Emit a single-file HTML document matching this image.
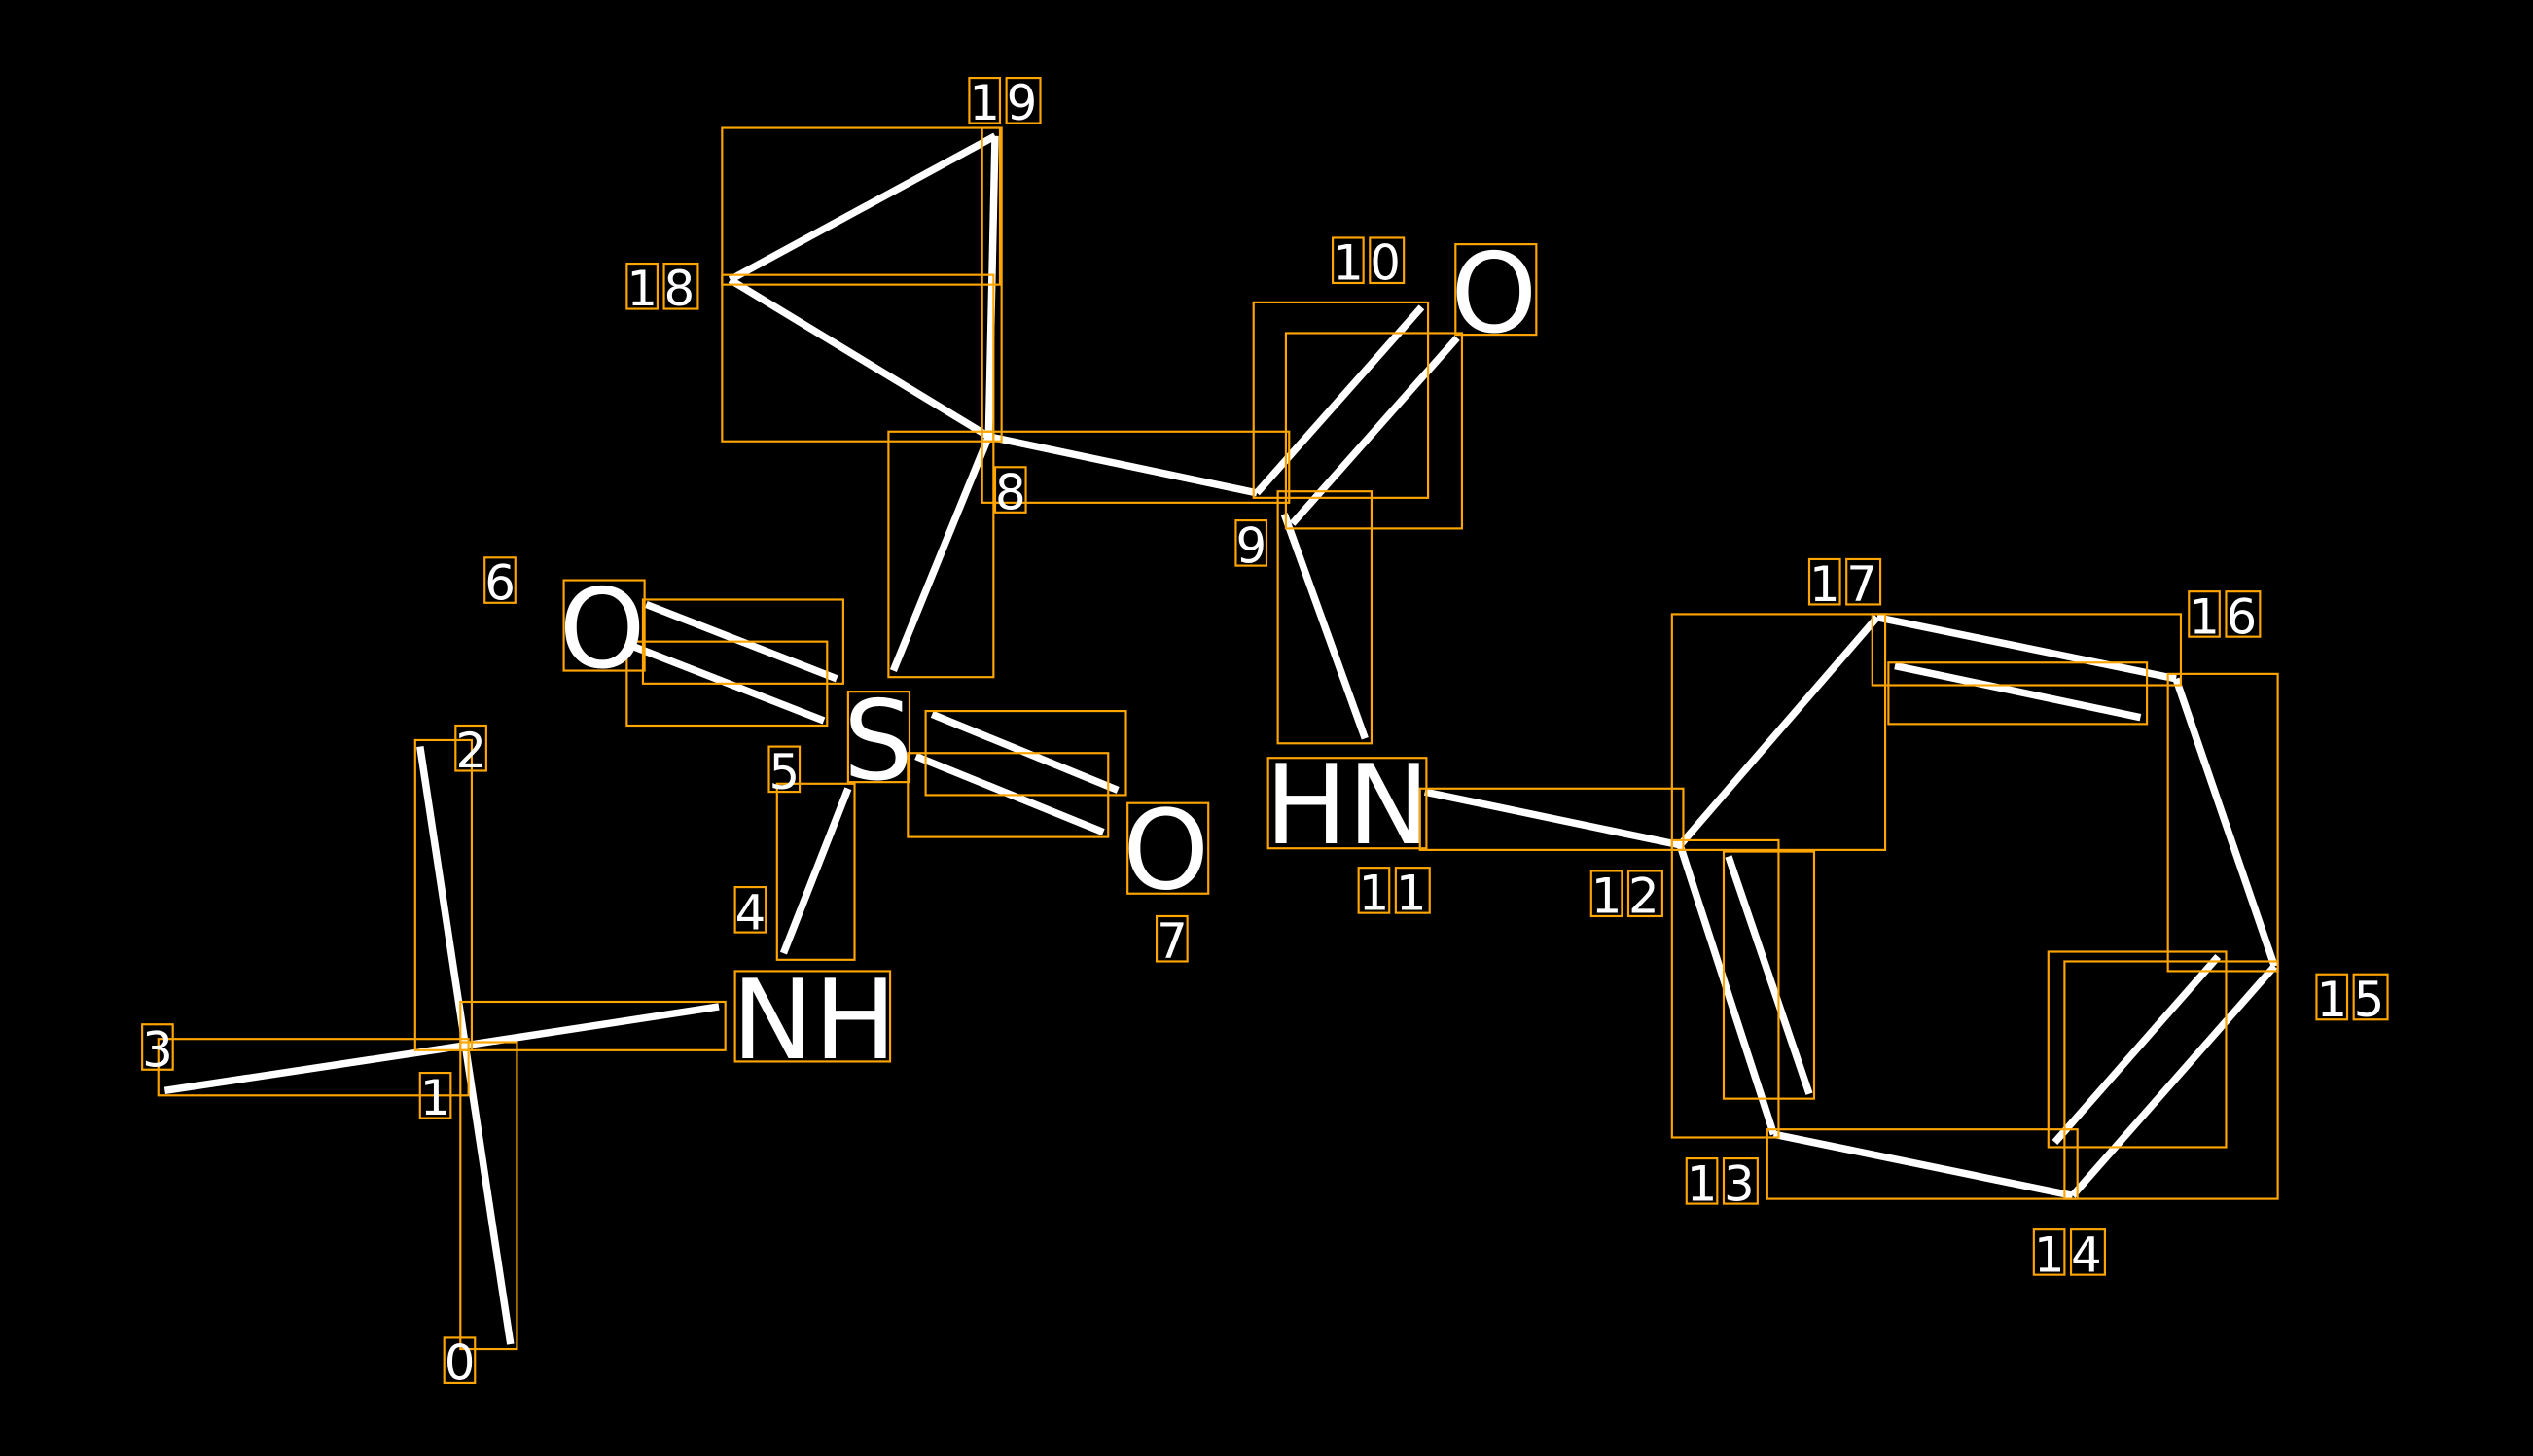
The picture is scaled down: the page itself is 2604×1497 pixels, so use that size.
<!DOCTYPE html>
<html><head><meta charset="utf-8"><style>
html,body{margin:0;padding:0;background:#000;}
svg{display:block;}
text{font-family:"DejaVu Sans","Liberation Sans",sans-serif;fill:#fff;}
</style></head><body>
<svg width="2604" height="1497" viewBox="0 0 1568 901" xmlns="http://www.w3.org/2000/svg">
<rect width="1568" height="901" fill="#000"/>
<g stroke="#fff" stroke-width="4.5" stroke-linecap="butt" fill="none">
<line x1="102" y1="675" x2="288" y2="647"/>
<line x1="288" y1="647" x2="445" y2="623"/>
<line x1="260" y1="462" x2="288" y2="647"/>
<line x1="288" y1="647" x2="316" y2="832"/>
<line x1="485" y1="590" x2="525" y2="488"/>
<line x1="400" y1="374" x2="518" y2="420"/>
<line x1="392" y1="400" x2="510" y2="446"/>
<line x1="577" y1="442" x2="692" y2="489"/>
<line x1="567" y1="468" x2="683" y2="515"/>
<line x1="553" y1="415" x2="612" y2="270"/>
<line x1="612" y1="270" x2="452" y2="173"/>
<line x1="452" y1="173" x2="616" y2="84"/>
<line x1="616" y1="84" x2="612" y2="270"/>
<line x1="612" y1="270" x2="778" y2="305"/>
<line x1="778" y1="305" x2="880" y2="190"/>
<line x1="800" y1="324" x2="902" y2="209"/>
<line x1="795" y1="318" x2="845" y2="457"/>
<line x1="882" y1="490" x2="1040" y2="523"/>
<line x1="1040" y1="523" x2="1162" y2="382"/>
<line x1="1162" y1="382" x2="1347" y2="420"/>
<line x1="1173" y1="412" x2="1325" y2="444"/>
<line x1="1347" y1="420" x2="1408" y2="598"/>
<line x1="1408" y1="598" x2="1283" y2="740"/>
<line x1="1373" y1="592" x2="1272" y2="707"/>
<line x1="1283" y1="740" x2="1098" y2="702"/>
<line x1="1098" y1="702" x2="1040" y2="523"/>
<line x1="1070" y1="530" x2="1120" y2="677"/>
</g>
<g stroke="#FFA500" stroke-width="1.3" fill="none">
<rect x="98" y="643" width="192" height="35"/>
<rect x="285" y="620" width="164" height="30"/>
<rect x="257" y="458" width="35" height="192"/>
<rect x="285" y="645" width="35" height="190"/>
<rect x="481" y="485" width="48" height="109"/>
<rect x="398" y="371" width="124" height="52"/>
<rect x="388" y="397" width="124" height="52"/>
<rect x="573" y="440" width="124" height="52"/>
<rect x="562" y="466" width="124" height="52"/>
<rect x="550" y="267" width="65" height="152"/>
<rect x="447" y="170" width="168" height="103"/>
<rect x="447" y="79" width="172" height="97"/>
<rect x="608" y="79" width="12" height="194"/>
<rect x="608" y="267" width="190" height="44"/>
<rect x="776" y="187" width="108" height="121"/>
<rect x="796" y="206" width="109" height="121"/>
<rect x="791" y="304" width="58" height="156"/>
<rect x="879" y="488" width="163" height="38"/>
<rect x="1035" y="380" width="132" height="146"/>
<rect x="1159" y="380" width="191" height="44"/>
<rect x="1169" y="410" width="160" height="38"/>
<rect x="1342" y="417" width="68" height="184"/>
<rect x="1278" y="595" width="132" height="147"/>
<rect x="1268" y="589" width="110" height="121"/>
<rect x="1094" y="699" width="192" height="43"/>
<rect x="1035" y="520" width="66" height="184"/>
<rect x="1067" y="527" width="56" height="153"/>
</g>
<g font-size="30" stroke="#FFA500" stroke-width="1.3" fill="none">
<rect x="275" y="828" width="19" height="28"/><rect x="260" y="664" width="19" height="28"/>
<rect x="282" y="449" width="19" height="28"/><rect x="88" y="634" width="19" height="28"/>
<rect x="455" y="549" width="19" height="28"/><rect x="476" y="462" width="19" height="28"/>
<rect x="300" y="345" width="19" height="28"/><rect x="716" y="567" width="19" height="28"/>
<rect x="616" y="289" width="19" height="28"/><rect x="765" y="322" width="19" height="28"/>
<rect x="600" y="48" width="19" height="28"/><rect x="623" y="48" width="21" height="28"/>
<rect x="388" y="163" width="19" height="28"/><rect x="411" y="163" width="21" height="28"/>
<rect x="825" y="147" width="19" height="28"/><rect x="848" y="147" width="21" height="28"/>
<rect x="841" y="537" width="19" height="28"/><rect x="864" y="537" width="21" height="28"/>
<rect x="985" y="539" width="19" height="28"/><rect x="1008" y="539" width="21" height="28"/>
<rect x="1044" y="717" width="19" height="28"/><rect x="1067" y="717" width="21" height="28"/>
<rect x="1259" y="761" width="19" height="28"/><rect x="1282" y="761" width="21" height="28"/>
<rect x="1434" y="603" width="19" height="28"/><rect x="1457" y="603" width="21" height="28"/>
<rect x="1355" y="366" width="19" height="28"/><rect x="1378" y="366" width="21" height="28"/>
<rect x="1120" y="346" width="19" height="28"/><rect x="1143" y="346" width="21" height="28"/>
<rect x="349" y="359" width="50" height="56"/><rect x="525" y="428" width="38" height="56"/>
<rect x="698" y="497" width="50" height="56"/><rect x="901" y="151" width="50" height="56"/>
<rect x="785" y="469" width="98" height="56"/><rect x="455" y="601" width="96" height="56"/>
</g>
<g font-size="30">
<text x="275" y="854">0</text><text x="260" y="690">1</text><text x="282" y="475">2</text>
<text x="88" y="660">3</text><text x="455" y="575">4</text><text x="476" y="488">5</text>
<text x="300" y="371">6</text><text x="716" y="593">7</text><text x="616" y="315">8</text>
<text x="765" y="348">9</text>
<text x="600" y="74">1</text><text x="623" y="74">9</text>
<text x="388" y="189">1</text><text x="411" y="189">8</text>
<text x="825" y="173">1</text><text x="848" y="173">0</text>
<text x="841" y="563">1</text><text x="864" y="563">1</text>
<text x="985" y="565">1</text><text x="1008" y="565">2</text>
<text x="1044" y="743">1</text><text x="1067" y="743">3</text>
<text x="1259" y="787">1</text><text x="1282" y="787">4</text>
<text x="1434" y="629">1</text><text x="1457" y="629">5</text>
<text x="1355" y="392">1</text><text x="1378" y="392">6</text>
<text x="1120" y="372">1</text><text x="1143" y="372">7</text>
</g>
<g font-size="68">
<text x="346" y="413">O</text><text x="522" y="482">S</text>
<text x="695" y="550">O</text><text x="898" y="205">O</text>
<text x="783" y="522">HN</text><text x="453" y="655">NH</text>
</g>
</svg>
</body></html>
